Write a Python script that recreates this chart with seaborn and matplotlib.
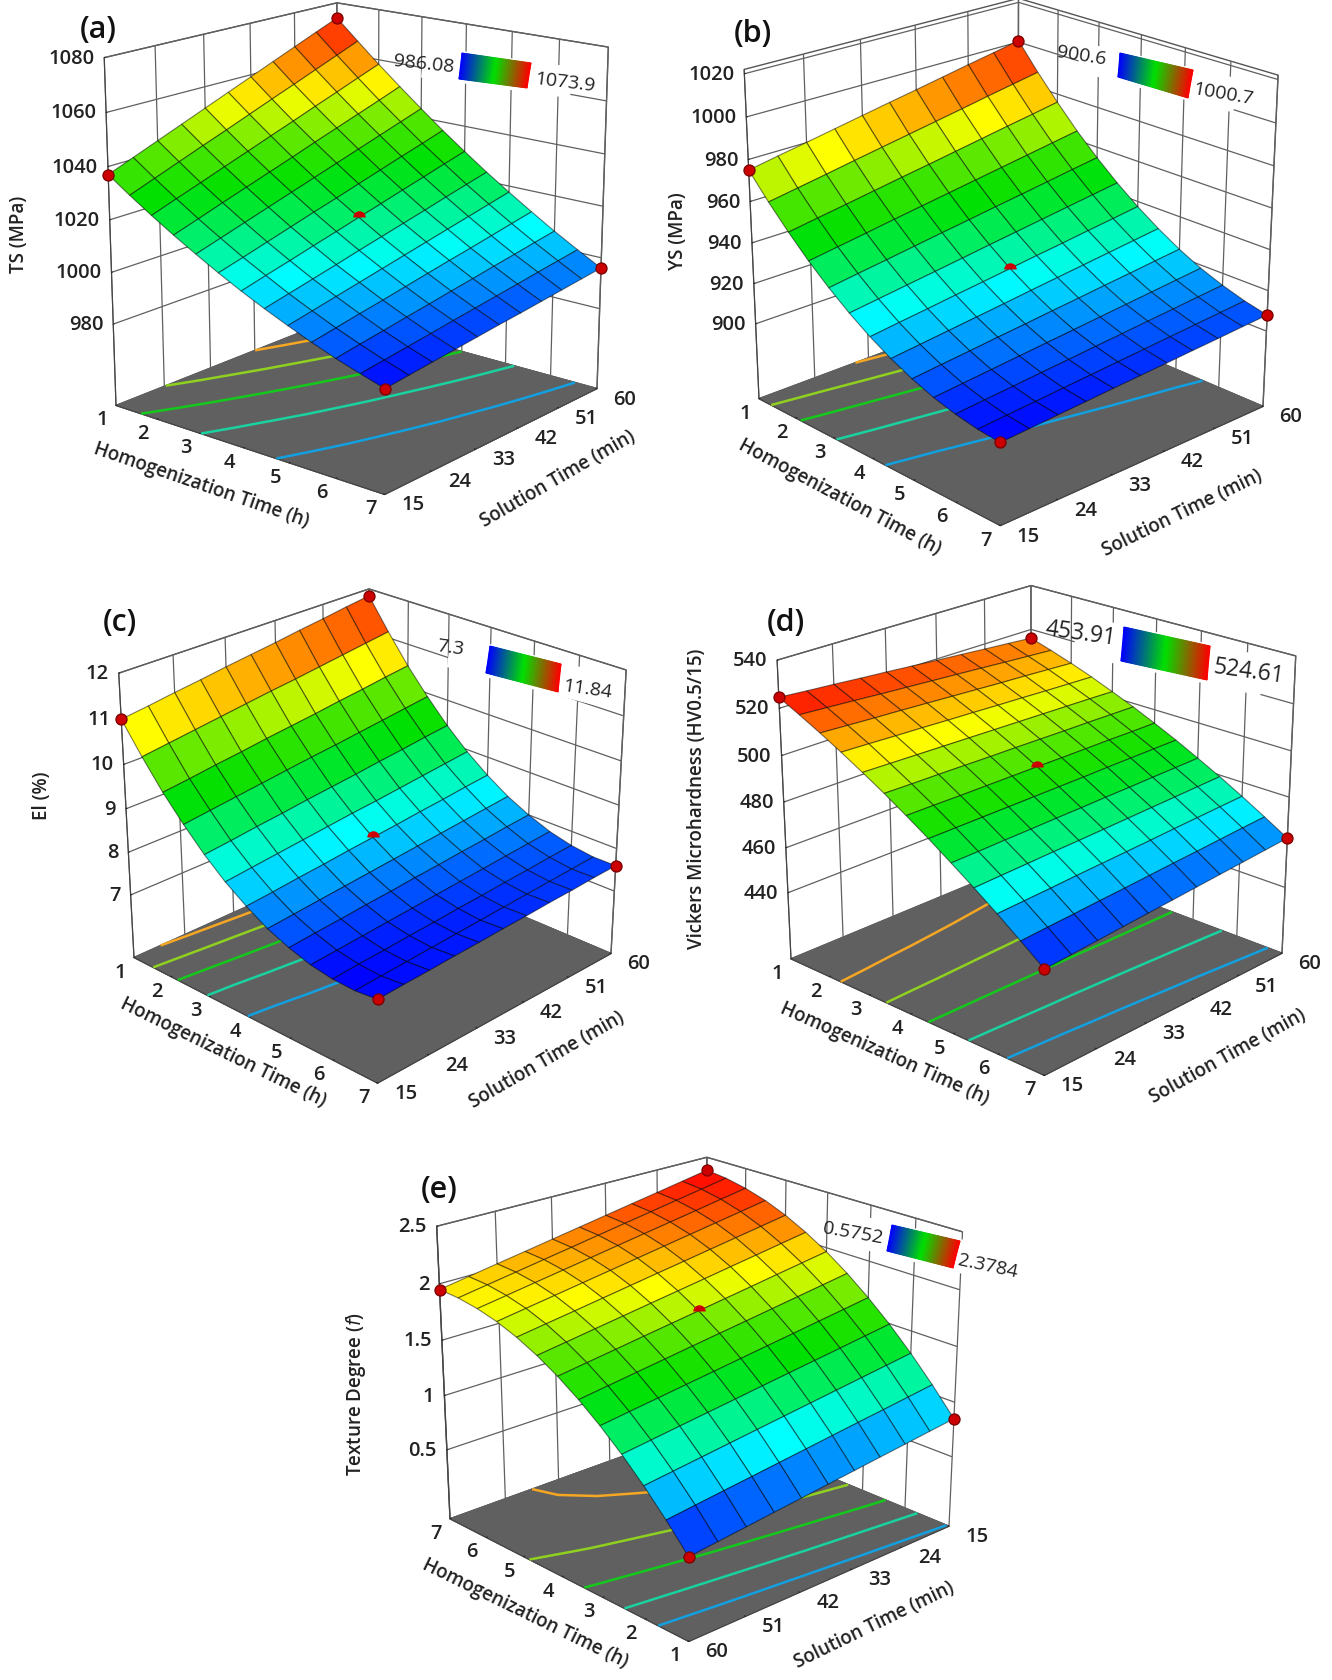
import numpy as np
import seaborn as sns
import matplotlib
matplotlib.use("Agg")
import matplotlib.pyplot as plt
from matplotlib.colors import Normalize
from mpl_toolkits.mplot3d import proj3d

sns.set_style("white")
plt.rcParams['font.family'] = ['Open Sans', 'DejaVu Sans']

hom_time = [1, 1.5, 2, 2.5, 3, 3.5, 4, 4.5, 5, 5.5, 6, 6.5, 7]
sol_time = [15, 19.5, 24, 28.5, 33, 37.5, 42, 46.5, 51, 55.5, 60]
hom_ticks = [1, 2, 3, 4, 5, 6, 7]
sol_ticks = [15, 24, 33, 42, 51, 60]

ts_values = [
    [1037, 1040.7, 1044.4, 1048.1, 1051.8, 1055.5, 1059.2, 1062.9, 1066.6, 1070.3, 1073.9],
    [1031.2, 1034.7, 1038.2, 1041.7, 1045.1, 1048.6, 1052.1, 1055.5, 1059, 1062.5, 1066],
    [1025.7, 1029, 1032.2, 1035.5, 1038.7, 1042, 1045.2, 1048.5, 1051.7, 1055, 1058.2],
    [1020.5, 1023.5, 1026.6, 1029.6, 1032.6, 1035.6, 1038.7, 1041.7, 1044.7, 1047.7, 1050.8],
    [1015.6, 1018.4, 1021.2, 1024, 1026.8, 1029.6, 1032.4, 1035.2, 1038, 1040.8, 1043.6],
    [1010.9, 1013.4, 1016, 1018.6, 1021.2, 1023.7, 1026.3, 1028.9, 1031.5, 1034, 1036.6],
    [1006.5, 1008.9, 1011.2, 1013.6, 1015.9, 1018.3, 1020.6, 1023, 1025.3, 1027.7, 1030],
    [1002.4, 1004.5, 1006.6, 1008.7, 1010.9, 1013, 1015.1, 1017.2, 1019.4, 1021.5, 1023.6],
    [998.6, 1000.5, 1002.4, 1004.3, 1006.2, 1008.1, 1010, 1011.9, 1013.8, 1015.7, 1017.6],
    [995, 996.7, 998.4, 1000, 1001.7, 1003.4, 1005.1, 1006.7, 1008.4, 1010.1, 1011.8],
    [991.7, 993.2, 994.6, 996.1, 997.5, 999, 1000.4, 1001.9, 1003.3, 1004.8, 1006.2],
    [988.8, 990, 991.2, 992.4, 993.7, 994.9, 996.1, 997.3, 998.6, 999.8, 1001],
    [986.08, 987.1, 988.1, 989.1, 990.1, 991.1, 992, 993, 994, 995, 996],
]
ys_values = [
    [975, 977.6, 980.1, 982.7, 985.3, 987.9, 990.4, 993, 995.6, 998.1, 1000.7],
    [963.6, 966, 968.4, 970.9, 973.3, 975.7, 978.1, 980.5, 983, 985.4, 987.8],
    [953.2, 955.5, 957.7, 960, 962.3, 964.5, 966.8, 969.1, 971.4, 973.6, 975.9],
    [943.6, 945.7, 947.8, 950, 952.1, 954.2, 956.3, 958.4, 960.5, 962.6, 964.7],
    [935.1, 937.1, 939, 941, 943, 944.9, 946.9, 948.8, 950.8, 952.8, 954.7],
    [927.5, 929.3, 931.1, 932.9, 934.7, 936.6, 938.4, 940.2, 942, 943.8, 945.6],
    [920.8, 922.5, 924.1, 925.8, 927.4, 929.1, 930.8, 932.4, 934.1, 935.7, 937.4],
    [915.1, 916.6, 918.1, 919.6, 921.1, 922.7, 924.2, 925.7, 927.2, 928.7, 930.2],
    [910.3, 911.7, 913, 914.4, 915.7, 917.1, 918.4, 919.8, 921.1, 922.5, 923.8],
    [906.4, 907.6, 908.8, 910, 911.2, 912.4, 913.6, 914.8, 916, 917.2, 918.4],
    [903.6, 904.7, 905.7, 906.8, 907.8, 908.9, 909.9, 911, 912, 913.1, 914.1],
    [901.6, 902.5, 903.4, 904.3, 905.2, 906.1, 907, 907.9, 908.8, 909.7, 910.6],
    [900.6, 901.3, 902.1, 902.8, 903.6, 904.3, 905, 905.8, 906.5, 907.3, 908],
]
el_values = [
    [11, 11.08, 11.17, 11.25, 11.34, 11.42, 11.5, 11.59, 11.67, 11.76, 11.84],
    [10.35, 10.43, 10.51, 10.59, 10.67, 10.75, 10.82, 10.9, 10.98, 11.06, 11.14],
    [9.75, 9.82, 9.9, 9.97, 10.05, 10.12, 10.19, 10.27, 10.34, 10.42, 10.49],
    [9.23, 9.3, 9.37, 9.44, 9.51, 9.58, 9.64, 9.71, 9.78, 9.85, 9.92],
    [8.76, 8.82, 8.89, 8.95, 9.02, 9.08, 9.14, 9.21, 9.27, 9.34, 9.4],
    [8.36, 8.42, 8.48, 8.54, 8.6, 8.66, 8.71, 8.77, 8.83, 8.89, 8.95],
    [8.03, 8.08, 8.14, 8.19, 8.25, 8.3, 8.35, 8.41, 8.46, 8.52, 8.57],
    [7.75, 7.8, 7.85, 7.9, 7.95, 8, 8.05, 8.1, 8.15, 8.2, 8.25],
    [7.55, 7.6, 7.64, 7.69, 7.73, 7.78, 7.82, 7.87, 7.91, 7.96, 8],
    [7.4, 7.44, 7.48, 7.52, 7.56, 7.6, 7.64, 7.68, 7.72, 7.76, 7.8],
    [7.32, 7.36, 7.39, 7.43, 7.46, 7.5, 7.53, 7.57, 7.6, 7.64, 7.67],
    [7.3, 7.33, 7.36, 7.39, 7.42, 7.45, 7.48, 7.51, 7.54, 7.57, 7.6],
    [7.35, 7.38, 7.4, 7.43, 7.45, 7.48, 7.5, 7.53, 7.55, 7.58, 7.6],
]
hv_values = [
    [524.6, 523.7, 522.9, 522, 521.2, 520.3, 519.4, 518.6, 517.7, 516.9, 516],
    [520.2, 519.5, 518.8, 518, 517.3, 516.6, 515.9, 515.2, 514.4, 513.7, 513],
    [515.6, 515, 514.4, 513.9, 513.3, 512.7, 512.1, 511.5, 511, 510.4, 509.8],
    [510.7, 510.3, 509.8, 509.4, 508.9, 508.5, 508, 507.6, 507.1, 506.7, 506.3],
    [505.5, 505.2, 504.9, 504.6, 504.3, 504, 503.7, 503.4, 503.1, 502.8, 502.4],
    [500.1, 499.9, 499.8, 499.6, 499.4, 499.3, 499.1, 498.9, 498.8, 498.6, 498.4],
    [494.3, 494.3, 494.2, 494.2, 494.2, 494.2, 494.1, 494.1, 494.1, 494, 494],
    [488.3, 488.4, 488.5, 488.6, 488.7, 488.8, 488.9, 489.1, 489.2, 489.3, 489.4],
    [481.9, 482.1, 482.4, 482.6, 482.9, 483.1, 483.4, 483.6, 483.9, 484.1, 484.4],
    [475.4, 475.8, 476.2, 476.6, 476.9, 477.3, 477.7, 478.1, 478.5, 478.9, 479.3],
    [468.6, 469.1, 469.6, 470.2, 470.7, 471.2, 471.7, 472.3, 472.8, 473.3, 473.8],
    [461.4, 462.1, 462.7, 463.4, 464, 464.7, 465.4, 466, 466.7, 467.4, 468],
    [454, 454.8, 455.6, 456.4, 457.2, 458, 458.8, 459.6, 460.4, 461.2, 462],
]
tex_values = [
    [0.85, 0.823, 0.795, 0.768, 0.74, 0.713, 0.685, 0.658, 0.63, 0.603, 0.5752],
    [1.084, 1.055, 1.026, 0.998, 0.969, 0.94, 0.911, 0.882, 0.854, 0.825, 0.796],
    [1.299, 1.269, 1.239, 1.209, 1.179, 1.149, 1.119, 1.089, 1.059, 1.029, 0.999],
    [1.495, 1.464, 1.432, 1.401, 1.37, 1.339, 1.307, 1.276, 1.245, 1.213, 1.182],
    [1.67, 1.637, 1.605, 1.572, 1.54, 1.507, 1.474, 1.442, 1.409, 1.377, 1.344],
    [1.827, 1.793, 1.759, 1.725, 1.691, 1.658, 1.624, 1.59, 1.556, 1.522, 1.488],
    [1.964, 1.929, 1.894, 1.858, 1.823, 1.788, 1.753, 1.718, 1.682, 1.647, 1.612],
    [2.081, 2.045, 2.008, 1.972, 1.935, 1.899, 1.863, 1.826, 1.79, 1.753, 1.717],
    [2.18, 2.142, 2.105, 2.067, 2.029, 1.992, 1.954, 1.916, 1.878, 1.841, 1.803],
    [2.259, 2.22, 2.181, 2.142, 2.103, 2.064, 2.025, 1.986, 1.947, 1.908, 1.869],
    [2.317, 2.277, 2.236, 2.196, 2.156, 2.116, 2.075, 2.035, 1.995, 1.954, 1.914],
    [2.357, 2.315, 2.274, 2.232, 2.191, 2.149, 2.107, 2.066, 2.024, 1.983, 1.941],
    [2.3784, 2.335, 2.292, 2.25, 2.207, 2.164, 2.121, 2.078, 2.036, 1.993, 1.95],
]

# centre point of each design
ts_centre = 1018.3
ys_centre = 929.1
el_centre = 8.3
hv_centre = 494.2
tex_centre = 1.788

surface_cmap = sns.blend_palette(["#0000ff", "#0080ff", "#00ffff", "#00f070", "#00e000", "#60e800",
                                  "#ffff00", "#ff8000", "#ff0000"], n_colors=256, as_cmap=True)
legend_cmap = sns.blend_palette(["#0000ff", "#00e000", "#ff0000"], n_colors=256, as_cmap=True)
contour_colors = ["#12a0e0", "#1ad2a0", "#14c81c", "#90d020", "#f5a623"]

W, H = 1332, 1681
fig = plt.figure(figsize=(W / 100, H / 100), dpi=100, facecolor="white")

# overlay in picture pixels for the labels and the small colour legends
over = fig.add_axes([0, 0, 1, 1], zorder=10)
over.set_xlim(0, W)
over.set_ylim(H, 0)
over.axis("off")
over.patch.set_alpha(0)


def to_pixels(ax, x, y, z):
    px, py, _ = proj3d.proj_transform(x, y, z, ax.get_proj())
    dx, dy = ax.transData.transform((px, py))
    return dx, H - dy


def draw_panel(values, centre, zlim, zticks, zticklabels, elev, azim, aspect, corners):
    ax = fig.add_axes([0, 0, 500 / W, 500 / H], projection="3d", computed_zorder=False)
    ax.patch.set_alpha(0)
    ax.set_proj_type("persp", focal_length=0.7)
    ax.view_init(elev=elev, azim=azim)
    ax.set_box_aspect((1, 1, aspect), zoom=1.0)

    X, Y = np.meshgrid(hom_time, sol_time, indexing="ij")
    Z = np.array(values)
    norm = Normalize(Z.min(), Z.max())

    ax.plot_surface(X, Y, Z, cmap=surface_cmap, norm=norm, rstride=1, cstride=1, shade=False,
                    edgecolor=(0, 0, 0, 0.5), linewidth=0.8, antialiased=True, zorder=2)
    levels = Z.min() + (Z.max() - Z.min()) * np.array([1, 2, 3, 4, 5]) / 6
    ax.contour(X, Y, Z, levels=levels, zdir="z", offset=zlim[0], colors=contour_colors, linewidths=1.8, zorder=1)

    # corner design points, centre one is half buried in the surface
    ax.scatter(X[[0, 0, -1, -1], [0, -1, 0, -1]], Y[[0, 0, -1, -1], [0, -1, 0, -1]], Z[[0, 0, -1, -1], [0, -1, 0, -1]],
               color="#cc0000", edgecolor="#800000", s=62, depthshade=False, zorder=3, clip_on=False)
    ax.plot([4], [37.5], [centre], marker="o", fillstyle="top", color="#cc0000", markeredgewidth=0,
            markersize=9, zorder=3)

    ax.set_xlim(1, 7)
    ax.set_ylim(15, 60)
    ax.set_zlim(*zlim)
    ax.set_xticks(hom_ticks)
    ax.set_yticks(sol_ticks)
    ax.set_zticks(zticks)
    ax.set_xticklabels([])
    ax.set_yticklabels([])
    ax.set_zticklabels([])

    for axis in [ax.xaxis, ax.yaxis]:
        axis.set_pane_color("white")
        axis.pane.set_edgecolor("#555555")
    ax.zaxis.set_pane_color("#606060")
    ax.zaxis.pane.set_edgecolor("#606060")
    for axis in [ax.xaxis, ax.yaxis, ax.zaxis]:
        axis.line.set_color("#444444")
        axis._axinfo["grid"]["color"] = "#606060"
        axis._axinfo["grid"]["linewidth"] = 0.9
        axis._axinfo["tick"]["inward_factor"] = 0.0
        axis._axinfo["tick"]["outward_factor"] = 0.05
        axis._axinfo["tick"]["color"] = "#111111"
    ax.zaxis.set_ticks_position("lower" if azim < 0 else "upper")

    # shift and scale the axes so the floor sits where it does in the picture
    if azim < 0:
        floor = [(1, 15), (7, 60)]
    else:
        floor = [(7, 60), (1, 15)]
    pts = []
    for x, y in floor:
        px, py, _ = proj3d.proj_transform(x, y, zlim[0], ax.get_proj())
        pts.append(ax.transAxes.inverted().transform(ax.transData.transform((px, py))))
    (fx0, fy0), (fx1, fy1) = pts
    (tx0, ty0), (tx1, ty1) = corners
    size = (tx1 - tx0) / (fx1 - fx0)
    left = tx0 - fx0 * size
    top_y = (ty0 + ty1) / 2 + (fy0 + fy1) / 2 * size
    ax.set_position([left / W, (H - top_y) / H, size / W, size / H])

    # tick labels go where the ticks project to
    if azim < 0:
        x_edge, y_edge, z_corner = 15, 7, (1, 15)
    else:
        x_edge, y_edge, z_corner = 60, 1, (7, 60)
    for t in hom_ticks:
        px, py = to_pixels(ax, t, x_edge, zlim[0])
        over.text(px - 14, py + 14, str(t), **tick_font)
    for t in sol_ticks:
        px, py = to_pixels(ax, y_edge, t, zlim[0])
        over.text(px + 28, py + 10, str(t), **tick_font)
    for t, s in zip(zticks, zticklabels):
        px, py = to_pixels(ax, z_corner[0], z_corner[1], t)
        over.text(px - 10, py, s, fontsize=14.5, fontweight="semibold", ha="right", va="center", color="#222222")
    return ax


tick_font = dict(fontsize=14.5, fontweight="semibold", ha="center", va="center", color="#222222")

draw_panel(ts_values, ts_centre, (948, 1080), [980, 1000, 1020, 1040, 1060, 1080],
           ["980", "1000", "1020", "1040", "1060", "1080"], 17, -50.5, 1.03, [(116, 405), (597, 391)])
draw_panel(ys_values, ys_centre, (862, 1022), [900, 920, 940, 960, 980, 1000, 1020],
           ["900", "920", "940", "960", "980", "1000", "1020"], 22, -43, 0.97, [(759, 402), (1263, 405)])
draw_panel(el_values, el_centre, (5.5, 12), [7, 8, 9, 10, 11, 12],
           ["7", "8", "9", "10", "11", "12"], 25, -46, 0.9, [(134, 958), (611, 955)])
draw_panel(hv_values, hv_centre, (410, 540), [440, 460, 480, 500, 520, 540],
           ["440", "460", "480", "500", "520", "540"], 22, -46.5, 0.9, [(791, 962), (1282, 952)])
draw_panel(tex_values, tex_centre, (-0.15, 2.5), [0.5, 1, 1.5, 2, 2.5],
           ["0.5", "1", "1.5", "2", "2.5"], 21.5, 137, 0.87, [(450, 1521), (949, 1526)])

panel_labels = ["(a)", "(b)", "(c)", "(d)", "(e)"]
label_pos = [(98, 30), (753, 34), (120, 623), (786, 623), (439, 1190)]
for s, (x, y) in zip(panel_labels, label_pos):
    over.text(x, y, s, fontsize=22, fontweight="semibold", ha="center", va="center", color="#111111")

xlabels = [(201, 485, -19), (840, 497, -28), (223, 1053, -26), (884, 1054, -24), (525, 1614, -26)]
ylabels = [(558, 479, 30), (1182, 513, 26), (547, 1060, 30), (1228, 1056, 29), (874, 1625, 26)]
for x, y, r in xlabels:
    over.text(x, y, "Homogenization Time (h)", fontsize=13.5, fontweight="semibold", rotation=r,
              rotation_mode="anchor", ha="center", va="center", color="#222222")
for x, y, r in ylabels:
    over.text(x, y, "Solution Time (min)", fontsize=13.5, fontweight="semibold", rotation=r,
              rotation_mode="anchor", ha="center", va="center", color="#222222")

zlabels = ["TS (MPa)", "YS (MPa)", "El (%)", "Vickers Microhardness (HV0.5/15)", "Texture Degree ($f$)"]
zlabel_pos = [(19, 234), (678, 231), (42, 796), (697, 799), (356, 1394)]
for s, (x, y) in zip(zlabels, zlabel_pos):
    over.text(x, y, s, fontsize=13.5, fontweight="semibold", rotation=90, ha="center", va="center", color="#222222")

legend_quads = [
    [(462, 54), (531, 64), (527, 89), (459, 80)],
    [(1120, 54), (1193, 71), (1188, 99), (1118, 78)],
    [(490, 647), (561, 665), (558, 693), (486, 674)],
    [(1124, 628), (1210, 647), (1207, 681), (1121, 662)],
    [(892, 1226), (960, 1242), (953, 1269), (887, 1252)],
]
legend_low = [("986.08", 424, 64, -6), ("900.6", 1081, 56, -9), ("7.3", 450, 648, -8),
              ("453.91", 1081, 634, -8), ("0.5752", 853, 1233, -10)]
legend_high = [("1073.9", 565, 83, -7), ("1000.7", 1223, 94, -10), ("11.84", 587, 689, -8),
               ("524.61", 1249, 672, -8), ("2.3784", 988, 1266, -12)]

for quad, lo, hi in zip(legend_quads, legend_low, legend_high):
    (x0, y0), (x1, y1), (x2, y2), (x3, y3) = quad
    size = 16.5 if lo[0] == "453.91" else 14
    # white backing that hides the wall lines behind the legend
    dx, dy = x1 - x0, y1 - y0
    over.fill([x0 - dx * 0.55, x1 + dx * 0.62, x2 + dx * 0.62, x3 - dx * 0.55],
              [y0 - dy * 0.55 - 2, y1 + dy * 0.62 - 2, y2 + dy * 0.62 + 4, y3 - dy * 0.55 + 4], color="white", lw=0)
    u = np.linspace(0, 1, 60)
    v = np.array([0, 1])
    U, V = np.meshgrid(u, v)
    QX = (x0 + (x1 - x0) * U) * (1 - V) + (x3 + (x2 - x3) * U) * V
    QY = (y0 + (y1 - y0) * U) * (1 - V) + (y3 + (y2 - y3) * U) * V
    over.pcolormesh(QX, QY, U, cmap=legend_cmap, shading="gouraud")
    for s, x, y, r in (lo, hi):
        over.text(x, y, s, fontsize=size, rotation=r, ha="center", va="center", color="#222222")

fig.savefig("out.png", dpi=100, facecolor="white")
